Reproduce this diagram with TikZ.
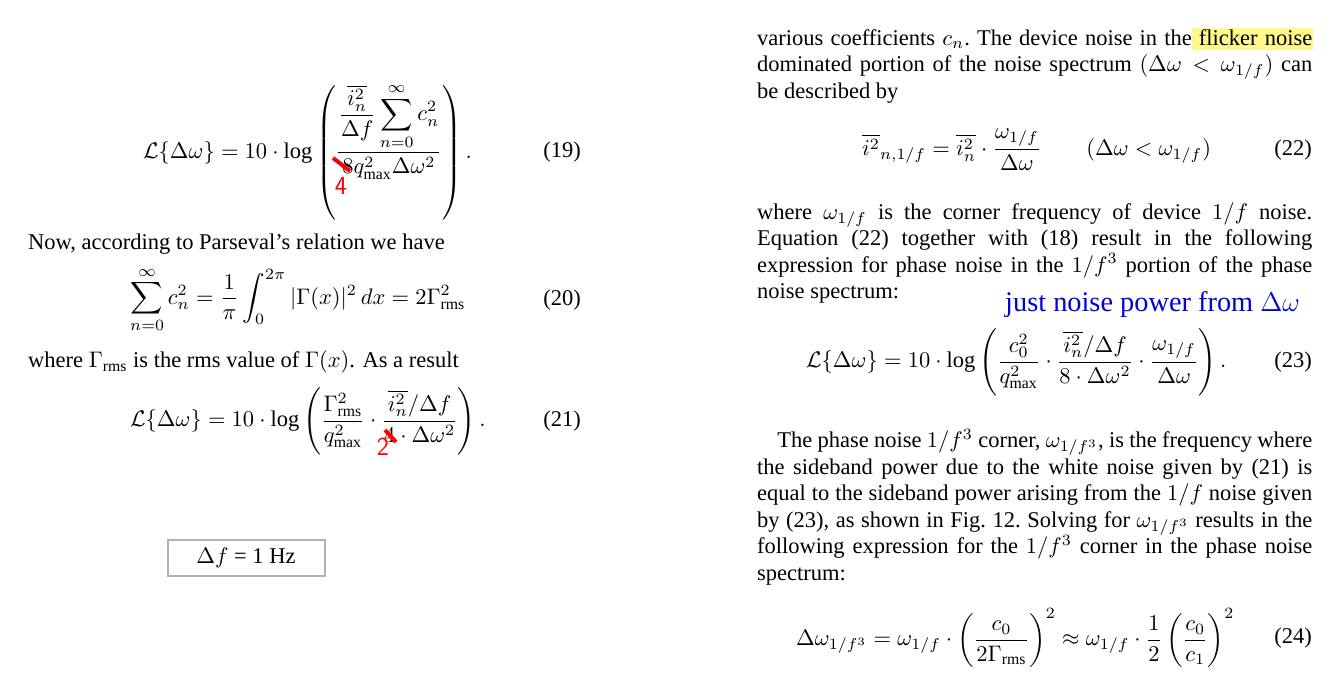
\documentclass[tikz,border=0pt]{standalone}
\usepackage{amsmath,amssymb}
\usepackage{graphicx}
\usepackage{fontspec}
\setmainfont{Liberation Serif}
\newcommand\Zb[1]{\scalebox{2.25}{\fontsize{10}{11.78}\selectfont #1}}
\newcommand\Zp[1]{\scalebox{2.25}{\fontsize{10}{11.78}\selectfont\parbox[t]{246.7pt}{\frenchspacing\parindent=0pt #1}}}
\begin{document}
\begin{tikzpicture}[x=1pt,y=-1pt,
  txt/.style={anchor=west,inner sep=0pt},
  para/.style={anchor=north west,inner sep=0pt},
  num/.style={anchor=east,inner sep=0pt},
  redmark/.style={red,line width=4pt},
  rednum/.style={red,inner sep=0pt,font=\fontsize{26}{26}\sffamily}]
\useasboundingbox (0,0) rectangle (1342,690);
\fill[white] (0,0) rectangle (1342,690);
\fill[yellow!45] (1192,28) rectangle (1313,50);
% left column
\node[txt] (e19) at (143,152) {\Zb{$\displaystyle \mathcal{L}\{\Delta\omega\}=10\cdot\log\left(\frac{\dfrac{\overline{i_n^2}}{\Delta f}\displaystyle\sum_{n=0}^{\infty}c_n^2}{8q_{\max}^2\Delta\omega^2}\right).$}};
\node[num] (n19) at (581,152) {\Zb{(19)}};
\node[txt] (t1) at (28,244) {\Zb{Now, according to Parseval's relation we have}};
\node[txt] (e20) at (130,300) {\Zb{$\displaystyle \sum_{n=0}^{\infty}c_n^2=\frac{1}{\pi}\int_0^{2\pi}|\Gamma(x)|^2\,dx=2\Gamma_{\mathrm{rms}}^2$}};
\node[num] (n20) at (581,300) {\Zb{(20)}};
\node[txt] (t2) at (28,362) {\Zb{where $\Gamma_{\mathrm{rms}}$ is the rms value of $\Gamma(x)$. As a result}};
\node[txt] (e21) at (130,421) {\Zb{$\displaystyle \mathcal{L}\{\Delta\omega\}=10\cdot\log\left(\frac{\Gamma_{\mathrm{rms}}^2}{q_{\max}^2}\cdot\frac{\overline{i_n^2}/\Delta f}{4\cdot\Delta\omega^2}\right).$}};
\node[num] (n21) at (581,421) {\Zb{(21)}};
\node[draw=gray!60,line width=2pt,minimum width=157pt,minimum height=36pt,inner sep=0pt] (box) at (246,558) {\Zb{$\Delta f$ = 1 Hz}};
% red marks
\draw[redmark] (333,158) -- (350,171);
\node[rednum] (r4) at (341,186) {4};
\draw[redmark] (385,430) -- (396,442);
\node[rednum] (r2) at (383,447) {2};
% right column
\node[para] (p1) at (757,29) {\Zp{various coefficients $c_n$. The device noise in the flicker noise\linebreak dominated portion of the noise spectrum $(\Delta\omega<\omega_{1/f})$ can\linebreak be described by}};
\node[txt] (e22) at (862,150) {\Zb{$\displaystyle \overline{i^2}_{n,1/f}=\overline{i_n^2}\cdot\frac{\omega_{1/f}}{\Delta\omega}\qquad(\Delta\omega<\omega_{1/f})$}};
\node[num] (n22) at (1312,150) {\Zb{(22)}};
\node[para] (p2) at (757,202) {\Zp{where $\omega_{1/f}$ is the corner frequency of device $1/f$ noise.\linebreak Equation (22) together with (18) result in the following\linebreak expression for phase noise in the $1/f^3$ portion of the phase\linebreak noise spectrum:}};
\node[txt,blue!85!black] (bl) at (1005,305) {\scalebox{2.25}{\fontsize{12.6}{14}\selectfont just noise power from $\Delta\omega$}};
\node[txt] (e23) at (806,362) {\Zb{$\displaystyle \mathcal{L}\{\Delta\omega\}=10\cdot\log\left(\frac{c_0^2}{q_{\max}^2}\cdot\frac{\overline{i_n^2}/\Delta f}{8\cdot\Delta\omega^2}\cdot\frac{\omega_{1/f}}{\Delta\omega}\right).$}};
\node[num] (n23) at (1312,362) {\Zb{(23)}};
\node[para] (p3) at (757,429) {\Zp{\hspace*{9pt}The phase noise $1/f^3$ corner, $\omega_{1/f^3}$, is the frequency where\linebreak the sideband power due to the white noise given by (21) is\linebreak equal to the sideband power arising from the $1/f$ noise given\linebreak by (23), as shown in Fig. 12. Solving for $\omega_{1/f^3}$ results in the\linebreak following expression for the $1/f^3$ corner in the phase noise\linebreak spectrum:}};
\node[txt] (e24) at (796,638) {\Zb{$\displaystyle \Delta\omega_{1/f^3}=\omega_{1/f}\cdot\left(\frac{c_0}{2\Gamma_{\mathrm{rms}}}\right)^2\approx\omega_{1/f}\cdot\frac{1}{2}\left(\frac{c_0}{c_1}\right)^2$}};
\node[num] (n24) at (1312,638) {\Zb{(24)}};
\end{tikzpicture}
\end{document}
